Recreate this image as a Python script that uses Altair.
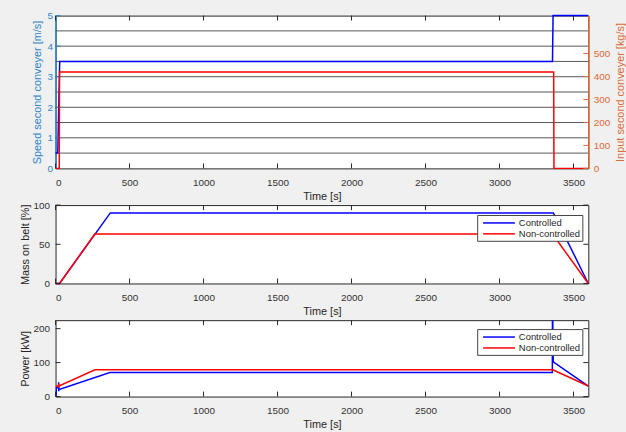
import altair as alt
import pandas as pd

# ---------------- data ----------------
time_ticks = [0, 500, 1000, 1500, 2000, 2500, 3000, 3500]

# Panel 1: speed of the second conveyor (left axis) and its input flow (right axis)
speed_t = [0, 15, 28, 3358, 3362, 3600]
speed_v = [0.5, 0.5, 3.5, 3.5, 5.0, 5.0]
input_t = [0, 25, 27, 3366, 3368, 3600]
input_v = [0, 0, 420, 420, 0, 0]
speed_ticks = [0, 1, 2, 3, 4, 5]
speed_grid = [0.5, 1.0, 1.5, 2.0, 2.5, 3.0, 3.5, 4.0, 4.5]
input_ticks = [0, 100, 200, 300, 400, 500]

# Panel 2: mass on belt
mass_ctrl_t = [0, 27, 370, 3364, 3600]
mass_ctrl_v = [0, 0, 90, 90, 0]
mass_nc_t = [0, 27, 265, 3358, 3600]
mass_nc_v = [0, 0, 63, 63, 0]
mass_ticks = [0, 50, 100]

# Panel 3: power
power_ctrl_t = [0, 3, 5, 20, 21, 22, 23, 367, 3357, 3358, 3363, 3600]
power_ctrl_v = [0, 0, 26, 26, 42, 16, 21, 71, 71, 300, 102, 31]
power_nc_t = [0, 20, 21, 22, 23, 266, 3360, 3600]
power_nc_v = [31, 31, 38, 25, 31, 79, 79, 31]
power_ticks = [0, 100, 200]

series_names = ["Controlled", "Non-controlled"]

# ---------------- styling ----------------
W = 537
H1, H2, H3 = 154, 79, 77
BLUE_AX = "#2f86c9"
ORANGE_AX = "#dd6a36"
DARK = "#262626"
TXT = "#333333"
FONT = "Liberation Sans"
TICK = 5


def series_df(t, v, name=""):
    return pd.DataFrame({"t": t, "v": v, "i": list(range(len(t))), "series": name})


def values_df(vals, col):
    return pd.DataFrame({col: vals})


x_scale = alt.Scale(domain=[0, 3600], nice=False, zero=False)
x_axis = alt.Axis(values=time_ticks, format="d", ticks=False, domain=False, grid=False,
                  labelPadding=9, labelFontSize=10, labelColor=TXT, labelFont=FONT,
                  title="Time [s]", titlePadding=3, titleFontSize=11, titleColor=DARK,
                  titleFont=FONT, titleFontWeight="normal")
x_enc = alt.X("t:Q", scale=x_scale, axis=x_axis)


def x_tick_layers(h, color=DARK):
    d = values_df(time_ticks, "t")
    top = alt.Chart(d).mark_rule(color=color, strokeWidth=1).encode(
        x=x_enc, y=alt.value(0), y2=alt.value(TICK))
    bot = alt.Chart(d).mark_rule(color=color, strokeWidth=1).encode(
        x=x_enc, y=alt.value(h), y2=alt.value(h - TICK))
    return [top, bot]


def y_tick_layers(vals, y_enc, left_color=DARK, right_color=DARK, left=True, right=True):
    d = values_df(vals, "v")
    out = []
    if left:
        out.append(alt.Chart(d).mark_rule(color=left_color, strokeWidth=1).encode(
            y=y_enc, x=alt.value(0), x2=alt.value(TICK)))
    if right:
        out.append(alt.Chart(d).mark_rule(color=right_color, strokeWidth=1).encode(
            y=y_enc, x=alt.value(W), x2=alt.value(W - TICK)))
    return out


def left_axis(vals, title, h, title_x, color=TXT, title_color=DARK, domain=False, pad=6):
    kw = dict(values=vals, ticks=False, grid=False, labelPadding=pad, labelFontSize=10,
              labelColor=color, labelFont=FONT, title=title, titleFontSize=11,
              titleColor=title_color, titleFont=FONT, titleFontWeight="normal",
              titleX=title_x, titleY=h / 2, titleAngle=270, titleBaseline="middle",
              titleAlign="center", domain=domain)
    if domain:
        kw.update(domainColor=color, domainWidth=1.5)
    return alt.Axis(**kw)


# ---------------- panel 1 ----------------
y_left = alt.Y("v:Q", scale=alt.Scale(domain=[0, 5], nice=False),
               axis=left_axis(speed_ticks, "Speed second conveyer [m/s]", H1, -18,
                              color=BLUE_AX, title_color=BLUE_AX, domain=True, pad=3))
right_axis = alt.Axis(orient="right", values=input_ticks, ticks=False, grid=False,
                      labelPadding=5, labelFontSize=10, labelColor=ORANGE_AX, labelFont=FONT,
                      domain=True, domainColor=ORANGE_AX, domainWidth=1.5,
                      title="Input second conveyer [kg/s]", titleFontSize=11,
                      titleColor=ORANGE_AX, titleFont=FONT, titleFontWeight="normal",
                      titleX=32, titleY=H1 / 2, titleAngle=270, titleBaseline="middle",
                      titleAlign="center")
y_right = alt.Y("v:Q", scale=alt.Scale(domain=[0, 665], nice=False), axis=right_axis)

grid1 = alt.Chart(values_df(speed_grid, "v")).mark_rule(color="#555555", strokeWidth=1).encode(
    y=y_left)
speed_line = alt.Chart(series_df(speed_t, speed_v)).mark_line(
    color="#0000ff", strokeWidth=1.5).encode(x=x_enc, y=y_left, order="i:Q")
input_line = alt.Chart(series_df(input_t, input_v)).mark_line(
    color="#ff0000", strokeWidth=1.5).encode(x=x_enc, y=y_right, order="i:Q")

left_group = alt.layer(grid1, speed_line, *x_tick_layers(H1),
                       *y_tick_layers(speed_ticks, y_left, left_color=BLUE_AX, right=False))
right_group = alt.layer(input_line,
                        *y_tick_layers(input_ticks, y_right, right_color=ORANGE_AX, left=False))
panel1 = alt.layer(left_group, right_group).resolve_scale(y="independent").properties(
    width=W, height=H1)

# ---------------- shared legend style ----------------
def color_enc(ly):
    return alt.Color("series:N",
                     scale=alt.Scale(domain=series_names, range=["#0000ff", "#ff0000"]),
                     legend=alt.Legend(orient="none", legendX=425, legendY=ly, title=None,
                                       symbolType="M-3.2,0H3.2", symbolSize=100,
                                       symbolStrokeWidth=1.5, symbolOffset=14,
                                       labelFontSize=9.5, labelFont=FONT, labelColor=DARK,
                                       labelOffset=14, strokeColor="#444444",
                                       fillColor="white", padding=2, rowPadding=0))


# ---------------- panel 2 ----------------
y_mass = alt.Y("v:Q", scale=alt.Scale(domain=[0, 100], nice=False),
               axis=left_axis(mass_ticks, "Mass on belt [%]", H2, -30))
mass_df = pd.concat([series_df(mass_ctrl_t, mass_ctrl_v, series_names[0]),
                     series_df(mass_nc_t, mass_nc_v, series_names[1])])
mass_lines = alt.Chart(mass_df).mark_line(strokeWidth=1.5).encode(
    x=x_enc, y=y_mass, color=color_enc(10), order="i:Q", detail="series:N")
panel2 = alt.layer(mass_lines, *x_tick_layers(H2), *y_tick_layers(mass_ticks, y_mass)).properties(
    width=W, height=H2)

# ---------------- panel 3 ----------------
y_power = alt.Y("v:Q", scale=alt.Scale(domain=[0, 225], nice=False),
                axis=left_axis(power_ticks, "Power [kW]", H3, -30))
power_df = pd.concat([series_df(power_ctrl_t, power_ctrl_v, series_names[0]),
                      series_df(power_nc_t, power_nc_v, series_names[1])])
power_lines = alt.Chart(power_df).mark_line(strokeWidth=1.5, clip=True).encode(
    x=x_enc, y=y_power, color=color_enc(9), order="i:Q", detail="series:N")
panel3 = alt.layer(power_lines, *x_tick_layers(H3), *y_tick_layers(power_ticks, y_power)).properties(
    width=W, height=H3)

chart = alt.vconcat(panel1, panel2, panel3, spacing=37, bounds="flush").resolve_scale(
    color="independent").resolve_legend(color="independent").properties(
    background="#f0f0f0",
    padding={"left": 19, "top": 8, "right": 0, "bottom": 0},
).configure_view(stroke=DARK, strokeWidth=1, fill="white")

chart.save("out.html", embed_options={"renderer": "svg", "actions": False})
